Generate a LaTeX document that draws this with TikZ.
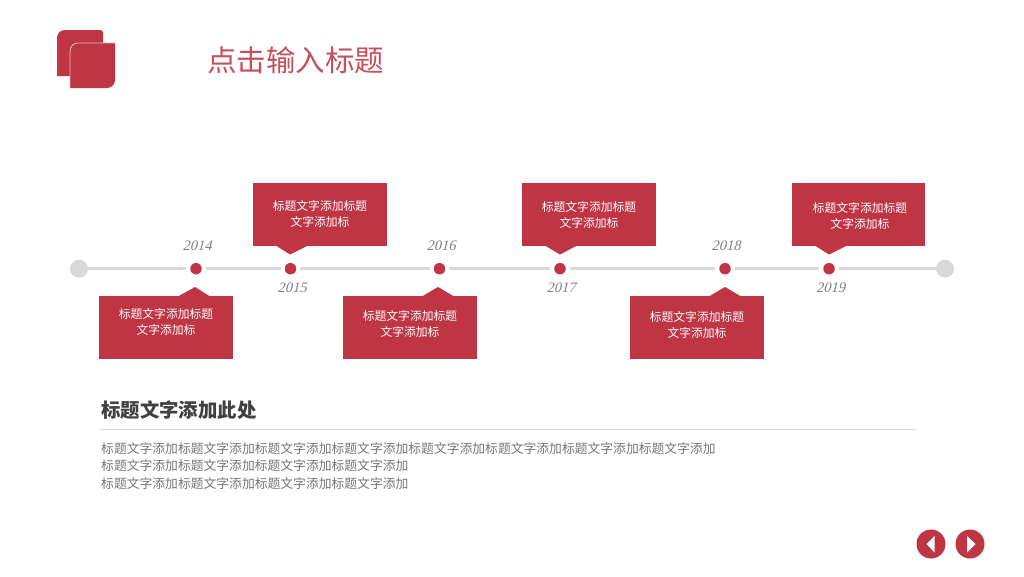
\documentclass[tikz,border=0pt]{standalone}
\usepackage{fontspec}
\setmainfont{Noto Sans CJK SC}
\newfontfamily\yearfont[FakeSlant=0.25]{Liberation Serif}
\definecolor{brand}{HTML}{BF3543}
\definecolor{titlered}{HTML}{C5505C}
\definecolor{railgray}{HTML}{D9D9D9}
\definecolor{yeargray}{HTML}{808080}
\definecolor{bodygray}{HTML}{767676}
\definecolor{headdark}{HTML}{404040}
\definecolor{framepink}{HTML}{EBB4B8}
\tikzset{
  rail/.style={draw=railgray,line width=3.5pt},
  railend/.style={circle,fill=railgray,draw=none,minimum size=18pt,inner sep=0pt},
  yeardot/.style={circle,fill=brand,draw=none,minimum size=11.5pt,inner sep=0pt,outer sep=4pt},
  yearlabel/.style={font=\yearfont\fontsize{14.5}{16}\selectfont,text=yeargray,inner sep=0pt},
  card/.style={fill=brand,draw=none,minimum width=134pt,minimum height=63pt,inner sep=0pt},
  cardtext/.style={text=white,align=center,inner sep=0pt,font=\fontsize{11.8}{16}\selectfont},
  pointer/.style={fill=brand,draw=none},
  navdot/.style={circle,fill=brand,draw=none,minimum size=29pt,inner sep=0pt},
  bodyline/.style={anchor=west,inner sep=0pt,text=bodygray,font=\fontsize{12.8}{14}\selectfont},
}
\begin{document}
\begin{tikzpicture}[x=1pt,y=-1pt]
\useasboundingbox[fill=white] (0,0) rectangle (1024,576);
% logo
\fill[brand] (57,76) -- (57,38) .. controls (57,33.5) and (60.5,30) .. (65,30) -- (100,30) .. controls (102,30) and (103,31) .. (103,33) -- (103,76) -- cycle;
\fill[brand] (70,88) -- (70,51) .. controls (70,46.5) and (73.5,43) .. (78,43) -- (115,43) -- (115,80) .. controls (115,84.5) and (111.5,88) .. (107,88) -- cycle;
\draw[framepink,line width=0.9pt] (70,88) -- (70,51) .. controls (70,46.5) and (73.5,43) .. (78,43) -- (115,43);
\node[anchor=west,inner sep=0pt,text=titlered,font=\fontsize{29.5}{32}\selectfont] (title) at (207,60) {点击输入标题};
% timeline
\node[railend] (railstart) at (79,268.7) {};
\node[railend] (railfinish) at (945,268.7) {};
\node[yeardot] (y14) at (196,268.7) {};
\node[yeardot] (y15) at (290.5,268.7) {};
\node[yeardot] (y16) at (439.5,268.7) {};
\node[yeardot] (y17) at (560,268.7) {};
\node[yeardot] (y18) at (725,268.7) {};
\node[yeardot] (y19) at (829,268.7) {};
\draw[rail] (railstart) -- (y14);
\draw[rail] (y14) -- (y15);
\draw[rail] (y15) -- (y16);
\draw[rail] (y16) -- (y17);
\draw[rail] (y17) -- (y18);
\draw[rail] (y18) -- (y19);
\draw[rail] (y19) -- (railfinish);
\node[yearlabel] (l14) at (197,246) {2014};
\node[yearlabel] (l15) at (292,288) {2015};
\node[yearlabel] (l16) at (441,246) {2016};
\node[yearlabel] (l17) at (561,288) {2017};
\node[yearlabel] (l18) at (726,246) {2018};
\node[yearlabel] (l19) at (830.5,288) {2019};
% cards above
\fill[pointer] (275,245) -- (290,254.5) -- (309,245) -- cycle;
\fill[pointer] (544,245) -- (560,254.5) -- (578,245) -- cycle;
\fill[pointer] (814,245) -- (829,254.5) -- (848,245) -- cycle;
\node[card] (c15) at (320,214.5) {};
\node[card] (c17) at (589,214.5) {};
\node[card,minimum width=133pt] (c19) at (858.5,214.5) {};
\node[cardtext] at (320,214) {标题文字添加标题\\文字添加标};
\node[cardtext] at (589,215) {标题文字添加标题\\文字添加标};
\node[cardtext] at (860,216) {标题文字添加标题\\文字添加标};
% cards below
\fill[pointer] (177,297) -- (195,287) -- (211,297) -- cycle;
\fill[pointer] (421,297) -- (438,287) -- (455,297) -- cycle;
\fill[pointer] (708,297) -- (725,287) -- (742,297) -- cycle;
\node[card] (c14) at (166,327.5) {};
\node[card] (c16) at (410,327.5) {};
\node[card] (c18) at (697,327.5) {};
\node[cardtext] at (166,322) {标题文字添加标题\\文字添加标};
\node[cardtext] at (410,324) {标题文字添加标题\\文字添加标};
\node[cardtext] at (697,325) {标题文字添加标题\\文字添加标};
% text block
\node[anchor=west,inner sep=0pt,text=headdark,font=\bfseries\fontsize{19.4}{22}\selectfont] (head) at (101,410) {标题文字添加此处};
\coordinate (ruleL) at (101,429.5);
\coordinate (ruleR) at (915,429.5);
\draw[draw=railgray,line width=0.8pt] (ruleL) -- (ruleR);
\node[bodyline] (b1) at (101,448.5) {标题文字添加标题文字添加标题文字添加标题文字添加标题文字添加标题文字添加标题文字添加标题文字添加};
\node[bodyline] (b2) at (101,465.5) {标题文字添加标题文字添加标题文字添加标题文字添加};
\node[bodyline] (b3) at (101,483.5) {标题文字添加标题文字添加标题文字添加标题文字添加};
% navigation
\node[navdot] (prev) at (931,544) {};
\node[navdot] (next) at (970,544) {};
\fill[white] (926.5,544) -- (934.5,536) -- (934.5,552.5) -- cycle;
\fill[white] (967,536) -- (975.5,544) -- (967,552.5) -- cycle;
\end{tikzpicture}
\end{document}
